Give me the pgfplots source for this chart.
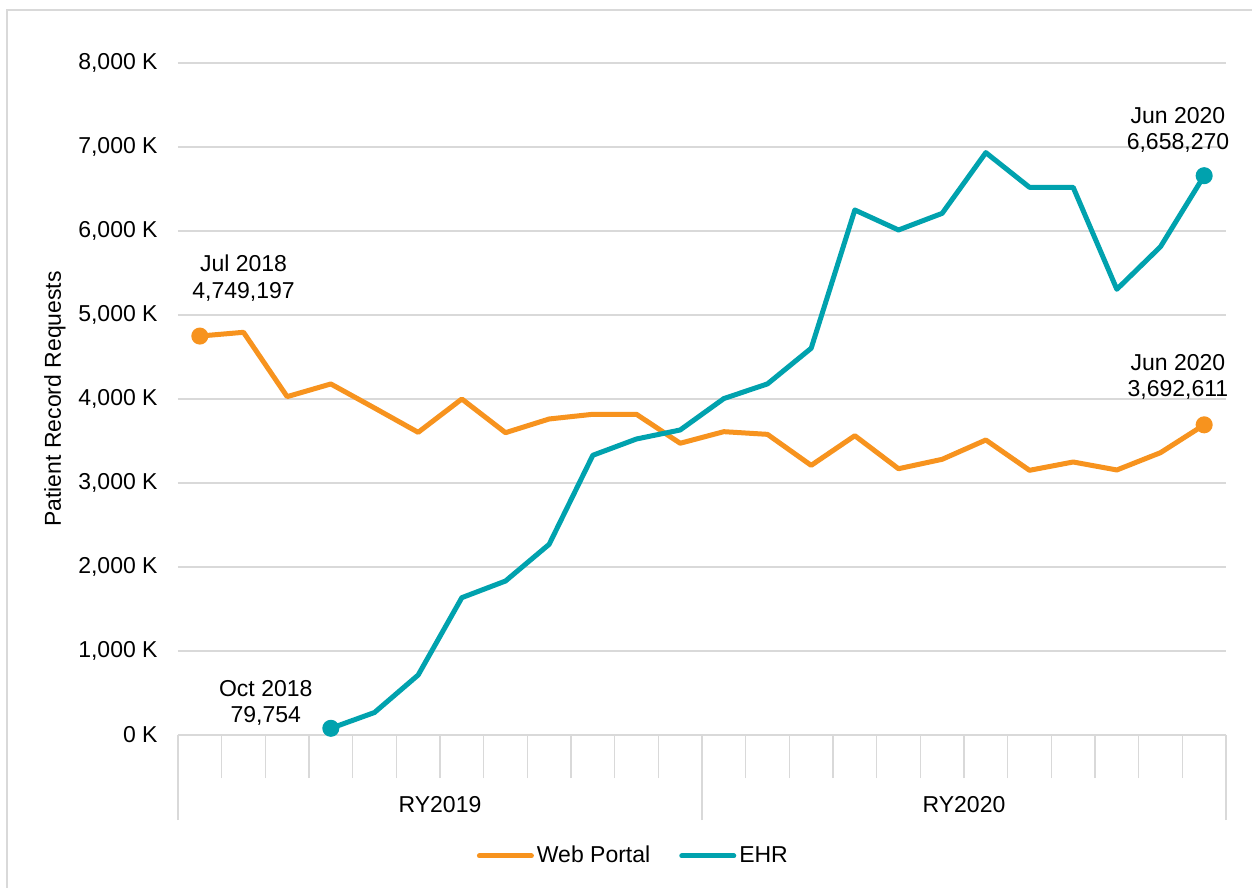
\documentclass[border=0pt]{standalone}
\usepackage{pgfplots}
\pgfplotsset{compat=1.18}
\usepackage{fontspec}
\setmainfont{Liberation Sans}
\definecolor{wpor}{HTML}{F7931E}
\definecolor{ehrt}{HTML}{00A2AE}
\definecolor{gridg}{HTML}{D9D9D9}
\begin{document}
\fontsize{11.5}{13.3}\selectfont
\begin{tikzpicture}
\useasboundingbox (0,0) rectangle (626pt,444pt);
\fill[white] (0,0) rectangle (626pt,444pt);
\draw[gridg, line width=0.75pt] (3.5pt,0pt) -- (3.5pt,439pt) -- (626pt,439pt);
\begin{axis}[
  at={(89pt,76.5pt)}, anchor=south west,
  scale only axis, width=524pt, height=336pt,
  xmin=-0.5, xmax=23.5, ymin=0, ymax=8000,
  clip=false,
  axis line style={draw=none},
  ymajorgrids, grid style={gridg, line width=0.75pt},
  ytick={0,1000,...,8000},
  yticklabel={\pgfmathprintnumber{\tick}\ K},
  /pgf/number format/.cd, 1000 sep={,}, assume math mode=true, /pgfplots/.cd,
  yticklabel style={anchor=east, inner sep=0pt, xshift=11.5pt},
  ytick style={draw=none},
  xtick={0.5,1.5,...,22.5},
  xticklabels={},
  tick align=outside, xtick pos=bottom,
  major tick length=21.5pt,
  xtick style={gridg, line width=0.75pt},
  extra x ticks={-0.5,11.5,23.5},
  extra x tick labels={},
  extra x tick style={major tick length=42.5pt, xtick style={gridg, line width=0.75pt}},
  ylabel={Patient Record Requests},
  ylabel style={at={(axis description cs:-0.1174,0.5)}, anchor=center},
  legend style={at={(0.435,-0.18)}, anchor=center, draw=none, fill=none,
    legend columns=2, /tikz/every even column/.append style={column sep=13pt},
    nodes={inner sep=1.5pt}},
  legend image code/.code={\draw[#1, line width=2.5pt, line cap=round] (0pt,0pt) -- (26pt,0pt);},
]
\addplot[wpor, line width=2.5pt, line join=round, mark=*, mark size=3pt, mark indices={1,24}, mark options={solid}] coordinates {
(0,4749.197) (1,4794) (2,4028) (3,4179) (4,3893) (5,3603) (6,4000) (7,3599)
(8,3762) (9,3818) (10,3818) (11,3473) (12,3611) (13,3579) (14,3210) (15,3563)
(16,3170) (17,3282) (18,3512) (19,3151) (20,3250) (21,3155) (22,3361) (23,3692.611)
};
\addlegendentry{Web Portal}
\addplot[ehrt, line width=2.5pt, line join=round, mark=*, mark size=3pt, mark indices={1,21}, mark options={solid}] coordinates {
(3,79.754) (4,268) (5,714) (6,1635) (7,1833) (8,2270) (9,3330) (10,3524)
(11,3631) (12,4005) (13,4180) (14,4604) (15,6250) (16,6012) (17,6210) (18,6933)
(19,6520) (20,6520) (21,5306) (22,5813) (23,6658.270)
};
\addlegendentry{EHR}
\node[align=center, inner sep=0pt] at (axis cs:1.0,5440) {Jul 2018\\4,749,197};
\node[align=center, inner sep=0pt] at (axis cs:1.51,381) {Oct 2018\\79,754};
\node[align=center, inner sep=0pt] at (axis cs:22.4,7202) {Jun 2020\\6,658,270};
\node[align=center, inner sep=0pt] at (axis cs:22.4,4262) {Jun 2020\\3,692,611};
\node[inner sep=0pt] at (axis cs:5.5,-833) {RY2019};
\node[inner sep=0pt] at (axis cs:17.5,-833) {RY2020};
\end{axis}
\end{tikzpicture}
\end{document}
